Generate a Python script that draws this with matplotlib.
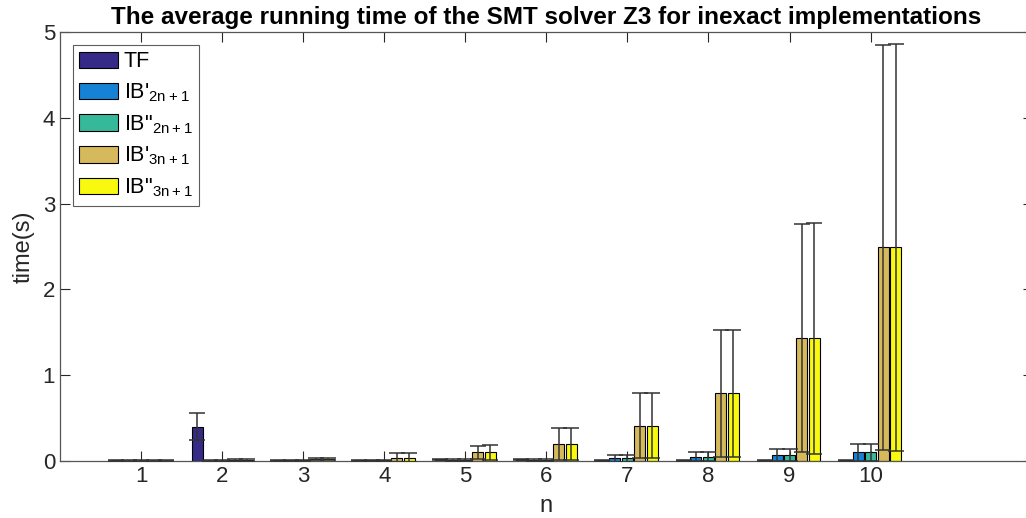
import numpy as np
import matplotlib
matplotlib.use("Agg")
import matplotlib.pyplot as plt

plt.rcParams['font.family'] = ['Liberation Sans', 'DejaVu Sans']
plt.rcParams['mathtext.default'] = 'regular'

# Daten
n = [1, 2, 3, 4, 5, 6, 7, 8, 9, 10]
labels = ['TF', "IB'$_{2n+1}$", 'IB"$_{2n+1}$', "IB'$_{3n+1}$", 'IB"$_{3n+1}$']
colors = ['#352a87', '#1582d6', '#36b99a', '#d6b95b', '#f8f90e']

tf_mean = [0.01, 0.40, 0.01, 0.01, 0.02, 0.02, 0.01, 0.01, 0.01, 0.01]
tf_std = [0.005, 0.155, 0.005, 0.005, 0.005, 0.005, 0.005, 0.005, 0.005, 0.005]
ib2a_mean = [0.005, 0.005, 0.01, 0.01, 0.01, 0.015, 0.03, 0.05, 0.07, 0.10]
ib2a_std = [0.005, 0.005, 0.005, 0.005, 0.01, 0.01, 0.04, 0.05, 0.07, 0.095]
ib2b_mean = [0.005, 0.005, 0.01, 0.01, 0.01, 0.015, 0.03, 0.05, 0.07, 0.10]
ib2b_std = [0.005, 0.005, 0.005, 0.005, 0.01, 0.01, 0.04, 0.05, 0.07, 0.095]
ib3a_mean = [0.005, 0.01, 0.02, 0.04, 0.10, 0.20, 0.41, 0.79, 1.43, 2.49]
ib3a_std = [0.005, 0.01, 0.01, 0.05, 0.075, 0.185, 0.38, 0.74, 1.33, 2.36]
ib3b_mean = [0.005, 0.01, 0.02, 0.04, 0.10, 0.20, 0.41, 0.79, 1.43, 2.49]
ib3b_std = [0.005, 0.01, 0.01, 0.05, 0.09, 0.185, 0.38, 0.74, 1.35, 2.37]

means = [tf_mean, ib2a_mean, ib2b_mean, ib3a_mean, ib3b_mean]
stds = [tf_std, ib2a_std, ib2b_std, ib3a_std, ib3b_std]

fig = plt.figure(figsize=(10.26, 5.18), dpi=100)
ax = fig.add_axes([0.0585, 0.110, 0.948, 0.828])

x = np.array(n)
nser = len(means)
groupw = nser / (nser + 1.5)
step = groupw / nser
barw = step * 0.88

for i in range(nser):
    xi = x + (i - (nser - 1) / 2) * step
    ax.bar(xi, means[i], width=barw, color=colors[i], edgecolor='black',
           linewidth=0.8, label=labels[i], zorder=2)
    ax.errorbar(xi, means[i], yerr=stds[i], fmt='none', ecolor='#333333',
                elinewidth=1.1, capsize=6, capthick=1.1, zorder=3)

ax.set_xlim(0, 12)
ax.set_ylim(0, 5)
ax.set_xticks(n)
ax.set_yticks([0, 1, 2, 3, 4, 5])
ax.tick_params(direction='in', length=7, top=True, right=True,
               labelsize=16, colors='#262626', width=0.8)
for s in ax.spines.values():
    s.set_color('#555555')
    s.set_linewidth(0.9)

ax.set_xlabel('n', fontsize=17, color='#262626', labelpad=6)
ax.set_ylabel('time(s)', fontsize=17, color='#262626', labelpad=6)
ax.set_title('The average running time of the SMT solver Z3 for inexact implementations',
             fontsize=17.5, fontweight='bold', pad=6)

leg = ax.legend(loc='upper left', fontsize=15.5, frameon=True, fancybox=False,
                edgecolor='#333333', borderpad=0.3, labelspacing=0.42,
                handlelength=1.8, handleheight=0.8, handletextpad=0.25,
                borderaxespad=0.6)
leg.get_frame().set_linewidth(0.8)

fig.savefig('out.png', dpi=100)
